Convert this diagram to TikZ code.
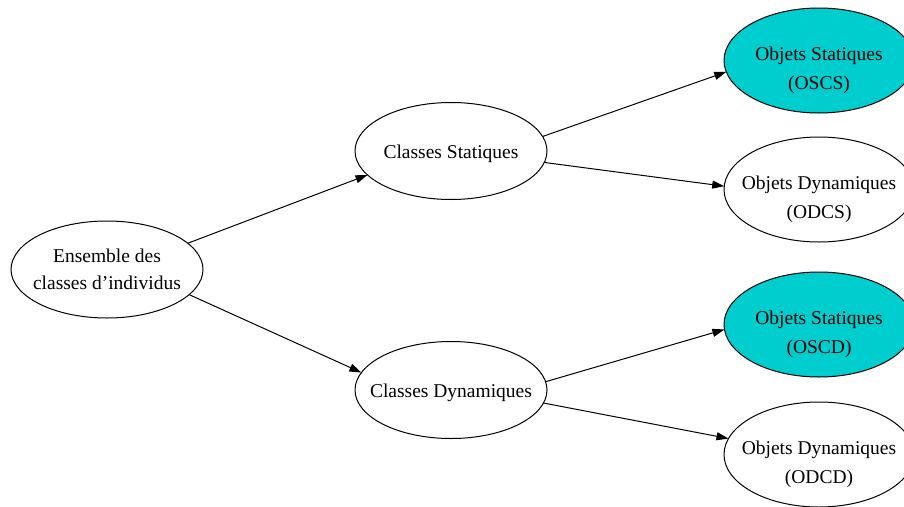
\documentclass[tikz,border=0pt]{standalone}
\usepackage{fontspec}
\setmainfont{Liberation Serif}
\usetikzlibrary{shapes.geometric,arrows.meta}
\definecolor{cyanthree}{HTML}{00CDCD}
% label with no size of its own, so the ellipse keeps its given size
\newcommand{\lbl}[2][-6.5pt]{\raisebox{#1}[0pt][0pt]{\makebox[0pt]{\begin{tabular}{@{}c@{}}#2\end{tabular}}}}
\tikzset{every path/.style={line width=1pt}, ell/.style={draw, ellipse, inner sep=0pt, outer sep=0pt},
  small/.style={ell, minimum width=192pt, minimum height=97pt},
  big/.style={ell, minimum width=190pt, minimum height=105pt}, stat/.style={fill=cyanthree},
  arr/.style={-{Triangle[length=12pt,width=8pt]}}}

\begin{document}
\begin{tikzpicture}[x=1pt,y=-1pt,font=\fontsize{19.5}{29}\selectfont]
   \useasboundingbox (0,0) rectangle (904,506);
    \node[small] (ens)  at (107,269.5) {\lbl[-6pt]{Ensemble des\\[-2pt]classes d'individus}};
    \node[small] (cs)   at (451,151) {\lbl{Classes Statiques}};
    \node[small] (cd)   at (451,390) {\lbl{Classes Dynamiques}};
    \node[big,stat] (oscs) at (819,60.5)  {\lbl[-13.5pt]{Objets Statiques\\(OSCS)}};
    \node[big]      (odcs) at (819,189.5) {\lbl[-13.5pt]{Objets Dynamiques\\(ODCS)}};
    \node[big,stat] (oscd) at (819,324.5) {\lbl[-13.5pt]{Objets Statiques\\(OSCD)}};
    \node[big]      (odcd) at (819,454.5) {\lbl[-13.5pt]{Objets Dynamiques\\(ODCD)}};
    \draw[arr] (ens.18)  -- (cs.196);
    \draw[arr] (ens.-17) -- (cd.169);
    \draw[arr] (cs.9)    -- (oscs.187);
    \draw[arr] (cs.-7)   -- (odcs.178);
    \draw[arr] (cd.5)    -- (oscd.183);
    \draw[arr] (cd.-8)   -- (odcd.170);
\end{tikzpicture}
\end{document}
